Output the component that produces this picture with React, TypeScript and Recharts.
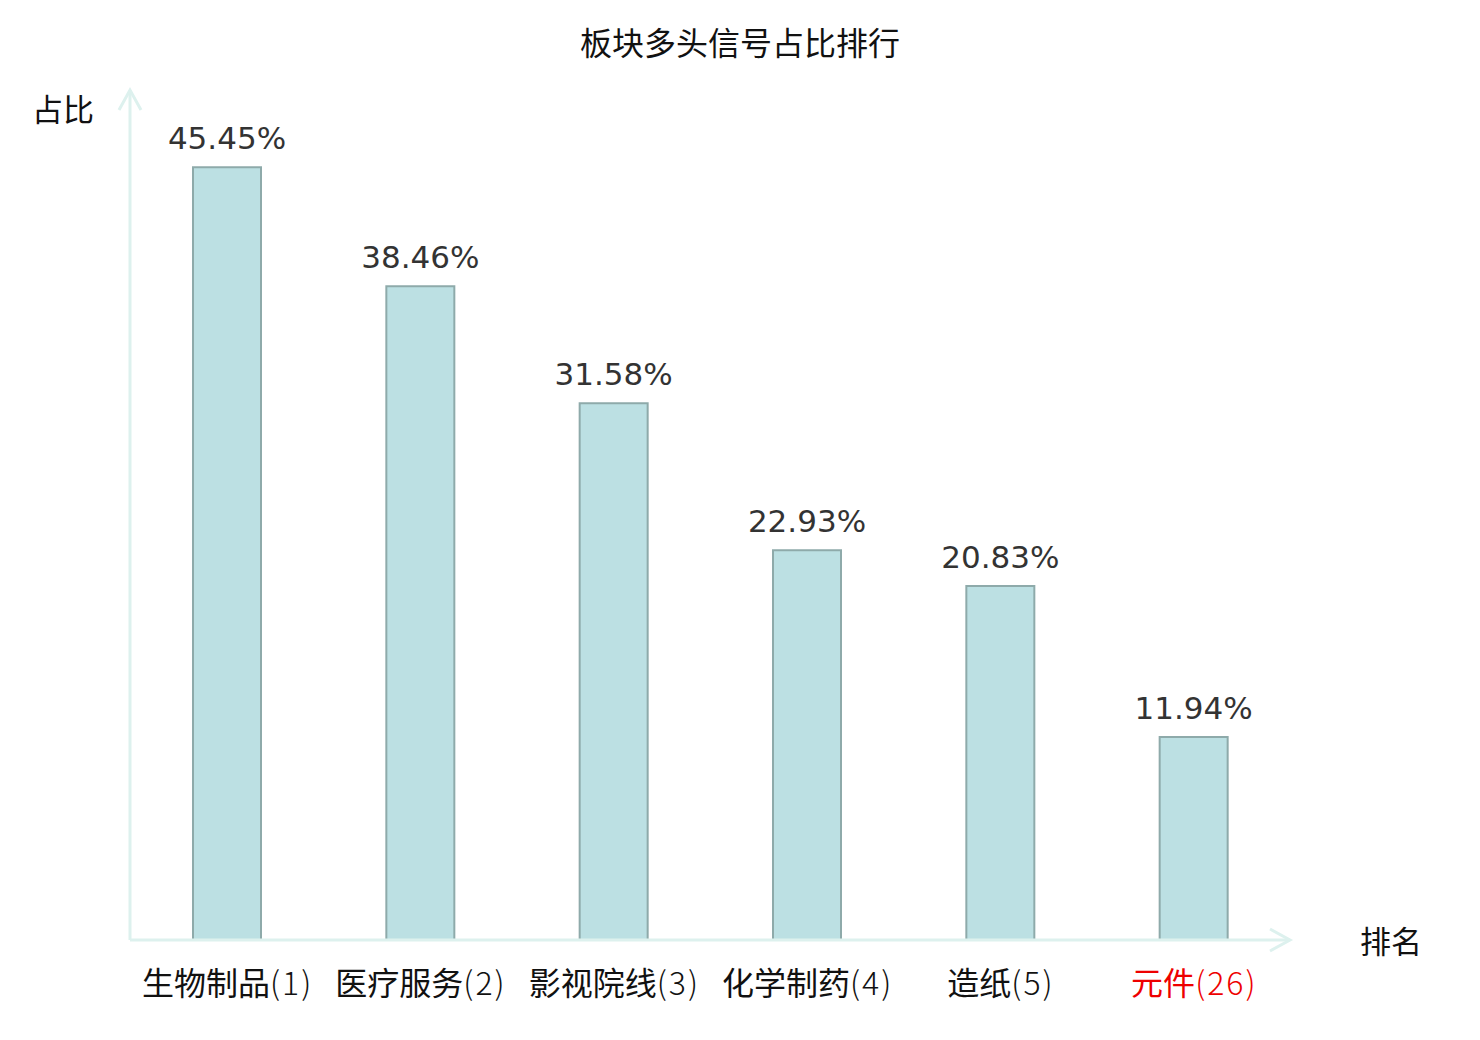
import React from 'react';
import { BarChart, Bar, XAxis, YAxis, LabelList, Label } from 'recharts';

const categories = ['生物制品(1)', '医疗服务(2)', '影视院线(3)', '化学制药(4)', '造纸(5)', '元件(26)'];
const ratios = [45.45, 38.46, 31.58, 22.93, 20.83, 11.94];
const highlightCategory = '元件(26)';
const yDomain = [0, 50];

const data = categories.map((name, i) => ({ name, ratio: ratios[i] }));

const axisColor = '#ddf1ee';
const cjkFont = '"Noto Sans CJK SC", "Noto Sans", sans-serif';
const numFont = '"DejaVu Sans", sans-serif';

const CategoryTick = (props: any) => {
  const { x, y, payload } = props;
  const value: string = String(payload.value);
  const red = value === highlightCategory;
  const cut = value.indexOf('(');
  const head = cut >= 0 ? value.slice(0, cut) : value;
  const tail = cut >= 0 ? value.slice(cut) : '';
  return (
    <text x={x + 1} y={y + 55} textAnchor="middle" fontSize={32} fontFamily={cjkFont} fill={red ? '#ee0000' : '#111'}>
      <tspan>{head}</tspan>
      <tspan fontWeight={300} letterSpacing={2}>{tail}</tspan>
    </text>
  );
};

const XArrow = (props: any) => {
  const vb = props.viewBox || {};
  const tipX = vb.x + vb.width;
  const tipY = vb.y;
  return (
    <g>
      <path d={`M${tipX - 20},${tipY - 11} L${tipX},${tipY} L${tipX - 20},${tipY + 11}`} fill="none" stroke={axisColor} strokeWidth={3} />
      <text x={tipX + 101} y={tipY + 13} textAnchor="middle" fontSize={31} fontFamily={cjkFont} fill="#111">排名</text>
    </g>
  );
};

const YArrow = (props: any) => {
  const vb = props.viewBox || {};
  const tipX = vb.x + vb.width;
  const tipY = vb.y;
  return (
    <g>
      <path d={`M${tipX - 11},${tipY + 20} L${tipX},${tipY} L${tipX + 11},${tipY + 20}`} fill="none" stroke={axisColor} strokeWidth={3} />
      <text x={tipX - 67} y={tipY + 31} textAnchor="middle" fontSize={31} fontFamily={cjkFont} fill="#111">占比</text>
    </g>
  );
};

export default function App() {
  return (
    <div style={{ position: 'absolute', left: 0, top: 0, width: 1480, height: 1040, background: '#fff' }}>
      <div style={{ position: 'absolute', left: 0, top: 21, width: 1480, textAlign: 'center', fontSize: 32, lineHeight: '40px', fontFamily: cjkFont, color: '#111' }}>
        板块多头信号占比排行
      </div>
      <BarChart width={1480} height={1040} data={data} margin={{ top: 90, right: 190, left: 70, bottom: 0 }}>
        <XAxis
          dataKey="name"
          height={100}
          interval={0}
          tickLine={false}
          tickSize={0}
          tickMargin={0}
          axisLine={{ stroke: axisColor, strokeWidth: 3 }}
          tick={<CategoryTick />}
        >
          <Label content={<XArrow />} />
        </XAxis>
        <YAxis
          width={60}
          domain={yDomain}
          tick={false}
          tickLine={false}
          axisLine={{ stroke: axisColor, strokeWidth: 3 }}
        >
          <Label content={<YArrow />} />
        </YAxis>
        <Bar dataKey="ratio" barSize={68} fill="#bce0e3" stroke="#8eaaaa" strokeWidth={2} isAnimationActive={false}>
          <LabelList
            dataKey="ratio"
            position="top"
            offset={18}
            formatter={(v: any) => `${Number(v).toFixed(2)}%`}
            style={{ fontSize: 31, fontFamily: numFont, fill: '#333' }}
          />
        </Bar>
      </BarChart>
    </div>
  );
}
